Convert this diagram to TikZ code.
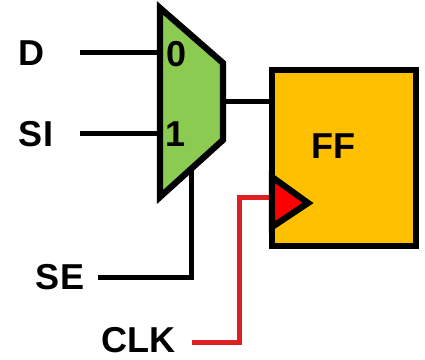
\documentclass[tikz,border=0pt]{standalone}
\usepackage{fontspec}
\usepackage{xcolor}
\setmainfont{Liberation Sans}
\definecolor{muxgreen}{HTML}{8CCB52}
\definecolor{ffamber}{HTML}{FFC000}
\definecolor{clkred}{HTML}{E01F22}
\tikzset{
  wire/.style={line width=0.1cm},
  blk/.style={line width=0.125cm, line join=miter},
  lbl/.style={font=\fontsize{20.5}{22}\selectfont\bfseries, text=black, inner sep=0},
}

\begin{document}
\begin{tikzpicture}
  \useasboundingbox (0, 0) rectangle (8.5, 7.2);

  \node[lbl] (d) at (0.64, 6.13) {D};
  \node[lbl] (si) at (0.72, 4.52) {SI};
  \node[lbl] (se) at (1.2, 1.66) {SE};
  \node[lbl] (clk) at (2.77, 0.4) {CLK};

  \coordinate (muxa) at (3.2, 7.04);
  \coordinate (muxb) at (4.46, 5.94);
  \coordinate (muxc) at (4.46, 4.4);
  \coordinate (muxd) at (3.2, 3.26);
  \coordinate (mux0) at (3.2, 6.14);
  \coordinate (mux1) at (3.2, 4.52);
  \coordinate (muxout) at (4.46, 5.16);
  \coordinate (muxsel) at (3.82, 3.8);
  \coordinate (dend) at (1.6, 6.14);
  \coordinate (siend) at (1.6, 4.52);
  \coordinate (seend) at (1.96, 1.64);
  \coordinate (clkend) at (3.84, 0.34);

  \draw[wire] (dend) -- (mux0);
  \draw[wire] (siend) -- (mux1);
  \draw[wire] (muxsel) -- (muxsel |- seend) -- (seend);

  \node[draw, blk, fill=ffamber, minimum width=2.88cm, minimum height=3.52cm, outer sep=0] (ff) at (6.88, 4.04) {};
  \coordinate (tria) at (5.44, 3.66);
  \coordinate (trib) at (6.16, 3.14);
  \coordinate (tric) at (5.44, 2.66);
  \coordinate (clkin) at (5.44, 3.24);

  \draw[wire] (muxout) -- (muxout -| ff.west);
  \draw[wire, color=clkred] (clkend) -- (4.78, 0.34) -- (4.78, 3.24) -- (clkin);

  \draw[blk, fill=muxgreen] (muxa) -- (muxb) -- (muxc) -- (muxd) -- cycle;
  \draw[blk, fill=red] (tria) -- (trib) -- (tric) -- cycle;

  \node[lbl] (zero) at (3.53, 6.12) {0};
  \node[lbl] (one) at (3.52, 4.52) {1};
  \node[lbl] (fflabel) at (6.66, 4.27) {FF};
\end{tikzpicture}
\end{document}
